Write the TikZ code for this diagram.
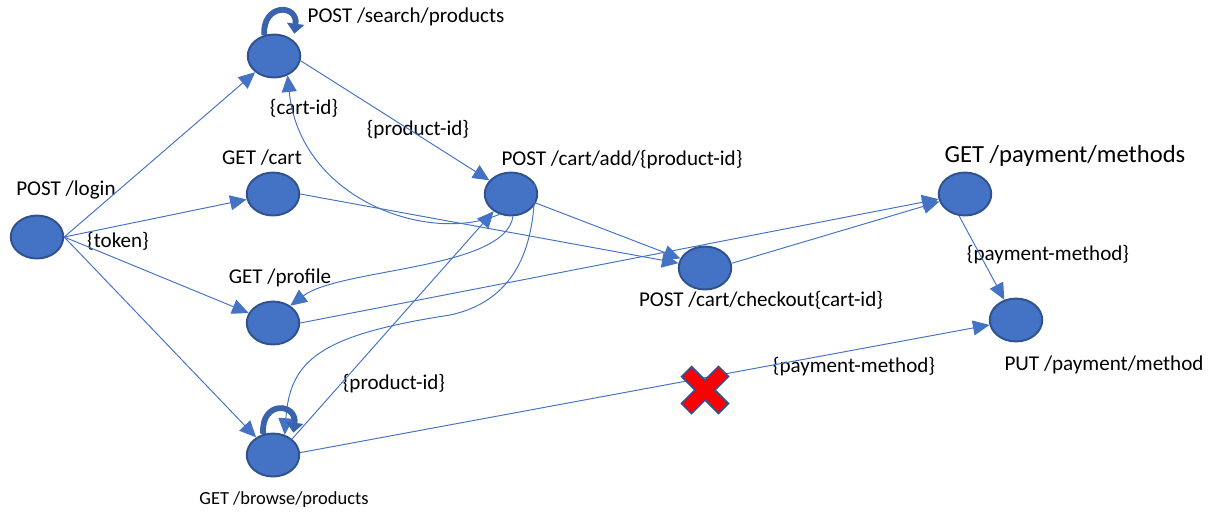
\documentclass[tikz,border=0pt]{standalone}
\usepackage{fontspec}
\setmainfont{Carlito}
\usetikzlibrary{arrows.meta}
\usetikzlibrary{shapes.geometric}
\usetikzlibrary{positioning}
\definecolor{nodeblue}{HTML}{4472C4}
\definecolor{rimblue}{HTML}{2F528F}
\definecolor{loopblue}{HTML}{3A63AD}
\tikzset{
  state/.style={ellipse,draw=rimblue,fill=nodeblue,line width=1.1pt,
    minimum width=1.05cm,minimum height=0.86cm,inner sep=0pt},
  link/.style={draw=nodeblue,line width=0.55pt,
    -{Triangle[length=0.33cm,width=0.3cm]}},
  selfloop/.style={draw=loopblue,line width=3.3pt,
    -{Triangle[length=0.2cm,width=0.34cm]}},
  title/.style={inner sep=0pt,font=\fontsize{12}{14}\selectfont},
  tag/.style={inner sep=0pt,font=\fontsize{12}{14}\selectfont},
  blocked/.style={fill=red,draw=rimblue,line width=1pt}
}

\begin{document}
\begin{tikzpicture}[x=0.02cm,y=-0.02cm]
  \useasboundingbox (0,0) rectangle (1215,512);
  % endpoints
  \node (login)    [state] at (37,237)  {};
  \node (search)   [state] at (274,56)  {};
  \node (cart)     [state] at (273,194) {};
  \node (profile)  [state] at (273,323) {};
  \node (browse)   [state] at (273,455) {};
  \node (add)      [state] at (511,194) {};
  \node (checkout) [state] at (705,268) {};
  \node (methods)  [state] at (965,194) {};
  \node (put)      [state] at (1016,320) {};
  % endpoint titles
  \node (login-t)    [title] at (66,190)   {POST /login};
  \node (search-t)   [title] at (406,17)   {POST /search/products};
  \node (cart-t)     [title] at (262,158)  {GET /cart};
  \node (profile-t)  [title] at (280,278)  {GET /profile};
  \node (browse-t)   [title,font=\fontsize{10.5}{12}\selectfont] at (284,500) {GET /browse/products};
  \node (add-t)      [title] at (622,160)  {POST /cart/add/\{product-id\}};
  \node (checkout-t) [title] at (761,300)  {POST /cart/checkout\{cart-id\}};
  \node (methods-t)  [title,font=\fontsize{14}{16}\selectfont] at (1065,156) {GET /payment/methods};
  \node (put-t)      [title] at (1104,365) {PUT /payment/method};
  % passed values
  \node (token)    [tag] at (118,241)  {\{token\}};
  \node (cartid)   [tag] at (304,108)  {\{cart-id\}};
  \node (prodid-a) [tag] at (418,130)  {\{product-id\}};
  \node (prodid-b) [tag] at (394,384)  {\{product-id\}};
  \node (paym-a)   [tag] at (1048,255) {\{payment-method\}};
  \node (paym-b)   [tag] at (854,367)  {\{payment-method\}};
  % straight links
  \draw[link] (login.east) -- (search);
  \draw[link] (login.east) -- (cart);
  \draw[link] (login.east) -- (profile);
  \draw[link] (login.east) -- (browse);
  \draw[link] (search.-10) -- (add);
  \draw[link] (cart.east) -- (checkout);
  \draw[link] (add.-20) -- (checkout);
  \draw[link] (checkout.10) -- (methods);
  \draw[link] (profile.east) -- (methods);
  \draw[link] (methods.-105) -- (put.120);
  \draw[link] (browse.5) -- (put);
  \draw[link] (browse.40) -- (add.225);
  % curved links
  \draw[link] (add.240) .. controls (430,245) and (300,200) .. (search.-55);
  \draw[link] (add.-85) .. controls (505,270) and (340,268) .. (profile.45);
  \draw[link] (add.25) .. controls (535,240) and (520,300) .. (450,315)
    .. controls (320,335) and (290,360) .. (browse.60);
  % self loops
  \draw[selfloop] (search.115) .. controls +(-2,-32) and +(4,-30)
    .. ([xshift=0.06cm,yshift=0.1cm]search.45);
  \draw[selfloop] (browse.115) .. controls +(-3,-34) and +(4,-30)
    .. ([xshift=0.06cm,yshift=0.1cm]browse.45);
  % blocked call
  \draw[blocked,shift={(705,390)},rotate=45]
    (-7,-26) -- (7,-26) -- (7,-7) -- (26,-7) -- (26,7) -- (7,7)
    -- (7,26) -- (-7,26) -- (-7,7) -- (-26,7) -- (-26,-7) -- (-7,-7) -- cycle;
\end{tikzpicture}
\end{document}
